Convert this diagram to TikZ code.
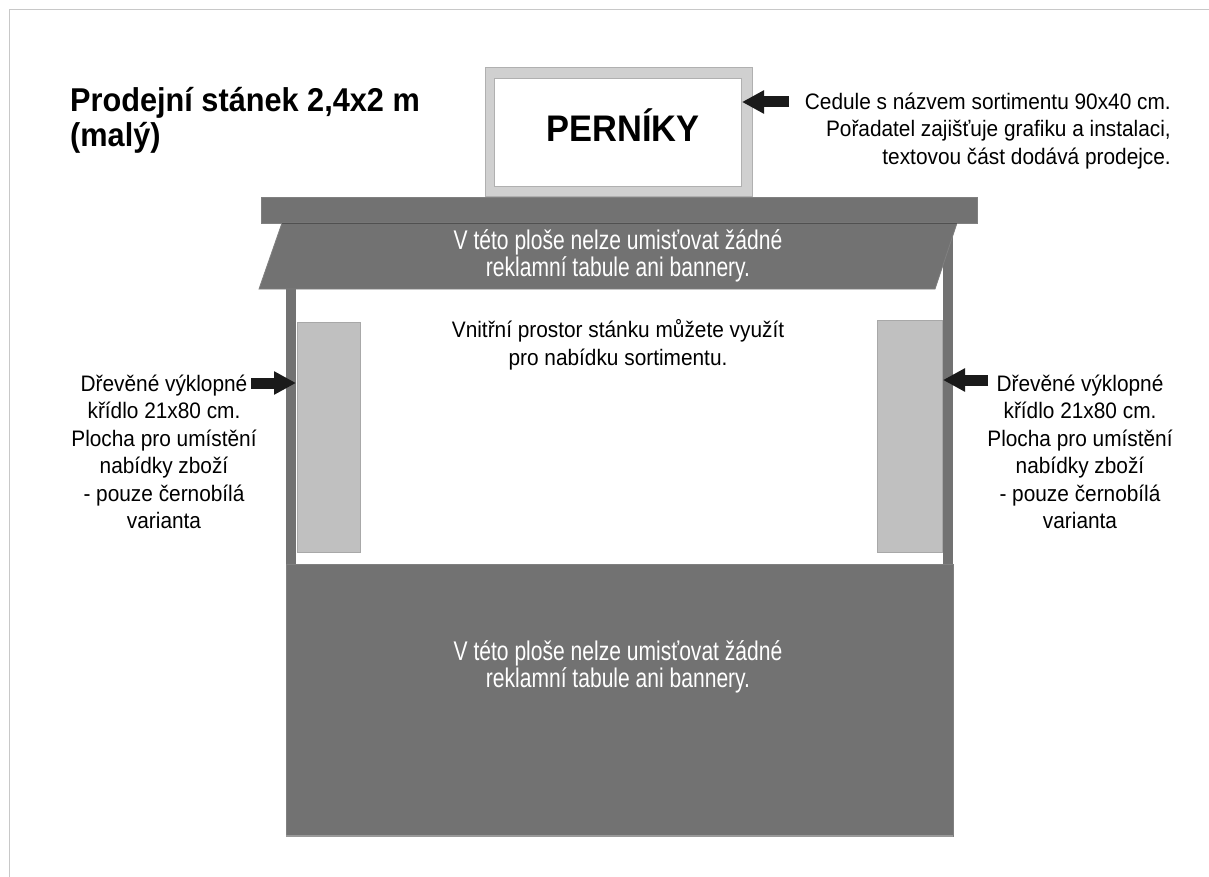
\documentclass[tikz,border=0pt]{standalone}
\usepackage{fontspec}
\setmainfont{Liberation Sans}
\newfontfamily\bodyfont[FakeStretch=0.93]{Liberation Sans}
\newfontfamily\narrowfont[FakeStretch=0.78]{Liberation Sans}
\newfontfamily\titlefont[FakeStretch=0.93]{Liberation Sans}
\usetikzlibrary{arrows.meta}
\definecolor{standgray}{HTML}{727272}
\definecolor{standedge}{HTML}{808080}
\definecolor{wingfill}{HTML}{C0C0C0}
\definecolor{wingedge}{HTML}{A8A8A8}
\definecolor{signfill}{HTML}{D0D0D0}
\definecolor{signedge}{HTML}{B0B0B0}
\definecolor{framegray}{HTML}{C8C8C8}
\definecolor{arrowblack}{HTML}{1A1A1A}
\tikzset{
  standpart/.style={fill=standgray, draw=standedge, line width=0.8pt},
  wingbox/.style={fill=wingfill, draw=wingedge, line width=0.8pt},
  bodytext/.style={font=\bodyfont\fontsize{22.4}{27.5}\selectfont, align=center, inner sep=0pt},
  whitetext/.style={font=\narrowfont\fontsize{27}{27.5}\selectfont, text=white, align=center, inner sep=0pt},
  pointer/.style={draw=arrowblack, line width=11pt, -{Triangle[length=22pt 0, width=22pt 0]}, arrowblack}
}
\begin{document}
\begin{tikzpicture}[x=1pt,y=-1pt]
\useasboundingbox (0,0) rectangle (1209,877);
\fill[white] (0,0) rectangle (1209,877);
\draw[framegray, line width=1pt] (9,877) -- (9,10) -- (1209,10);

% sign
\node[fill=signfill, draw=signedge, line width=1pt, inner sep=0pt, minimum width=267pt, minimum height=129pt] (signout) at (618.5,132.5) {};
\node[fill=white, draw=signedge, line width=1pt, inner sep=0pt, minimum width=247pt, minimum height=108pt] (signin) at (617.5,133) {};
\node[font=\titlefont\fontsize{37}{40}\selectfont\bfseries, anchor=base, inner sep=0pt] (pern) at (623,142) {PERNÍKY};

% posts
\fill[standgray] (286,223) rectangle (296,565);
\fill[standgray] (943,223) rectangle (953,565);
\node[inner sep=0pt, minimum width=10pt, minimum height=342pt] (lpost) at (291,394) {};
\node[inner sep=0pt, minimum width=10pt, minimum height=342pt] (rpost) at (948,394) {};

% roof and awning
\draw[standpart] (261,197) rectangle (977,223);
\draw[standpart] (282,223) -- (957,223) -- (935,289) -- (259,289) -- cycle;
\draw[standgray!70!black, line width=0.8pt] (282,223) -- (957,223);

% wings
\node[wingbox, inner sep=0pt, minimum width=63pt, minimum height=230pt] (lwing) at (328.5,437) {};
\node[wingbox, inner sep=0pt, minimum width=65pt, minimum height=232pt] (rwing) at (909.5,436) {};

% counter
\draw[standpart] (286,564) rectangle (953,836);
\draw[gray!80, line width=1.2pt] (286,836) -- (953,836);

% texts
\node[font=\titlefont\fontsize{33}{35}\selectfont\bfseries, anchor=base west, inner sep=0pt] (title) at (70,112) {Prodejní stánek 2,4x2 m};
\node[font=\titlefont\fontsize{33}{35}\selectfont\bfseries, anchor=base west, inner sep=0pt] (title2) at (70,147) {(malý)};

\node[bodytext, align=right, anchor=east] (signnote) at (1171,131) {Cedule s názvem sortimentu 90x40 cm.\\Pořadatel zajišťuje grafiku a instalaci,\\textovou část dodává prodejce.};

\node[whitetext] (awtext) at (618,256) {V této ploše nelze umisťovat žádné\\reklamní tabule ani bannery.};
\node[whitetext] (cntext) at (618,667) {V této ploše nelze umisťovat žádné\\reklamní tabule ani bannery.};

\node[bodytext] (midtext) at (618,345) {Vnitřní prostor stánku můžete využít\\pro nabídku sortimentu.};

\node[bodytext] (ltext) at (164,452) {Dřevěné výklopné\\křídlo 21x80 cm.\\Plocha pro umístění\\nabídky zboží\\- pouze černobílá\\varianta};
\node[bodytext] (rtext) at (1080,452) {Dřevěné výklopné\\křídlo 21x80 cm.\\Plocha pro umístění\\nabídky zboží\\- pouze černobílá\\varianta};

% arrows
\coordinate (sa) at (789,102);
\coordinate (st) at (742,102);
\coordinate (la) at (251,383);
\coordinate (lt) at (296,383);
\coordinate (ra) at (988,380);
\coordinate (rt) at (943,380);
\draw[pointer] (sa) -- (st);
\draw[pointer] (la) -- (lt);
\draw[pointer] (ra) -- (rt);
\end{tikzpicture}
\end{document}
